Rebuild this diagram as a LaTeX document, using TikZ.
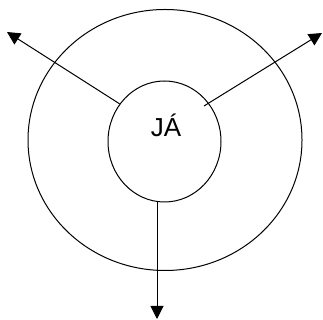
\documentclass[tikz,border=0pt]{standalone}
\usepackage{fontspec}
\setmainfont{Liberation Sans}
\usetikzlibrary{positioning, arrows.meta, shapes.geometric}
\tikzset{
  ring/.style  = {draw, ellipse, inner sep=0pt, line width=1pt},
  arrow/.style = {-{Triangle[length=13pt, width=13pt]}, line width=1pt}
}

\begin{document}
\begin{tikzpicture}[x=1pt, y=1pt,
  jafont/.style={font=\fontsize{26}{30}\selectfont, inner sep=0pt}
]
  \useasboundingbox (0,0) rectangle (323,320);
  \node[ring, minimum width=274pt, minimum height=261pt] (outer) at (165,180) {};
  \node[ring, minimum width=113pt, minimum height=121pt] (ja) at (164.5,178.5) {};
  \node[jafont, anchor=base] (jatext) at ([xshift=1.5pt, yshift=5pt]ja.center) {JÁ};
  % arrow ends
  \coordinate (tl) at (7,288);
  \coordinate (tr) at (322,287);
  \coordinate (bt) at (157,1);
  \coordinate (rs) at (204,214);
  \draw[arrow] (ja.140) -- (tl);
  \draw[arrow] (rs) -- (tr);
  \draw[arrow] (ja.south -| bt) -- (bt);
\end{tikzpicture}
\end{document}
